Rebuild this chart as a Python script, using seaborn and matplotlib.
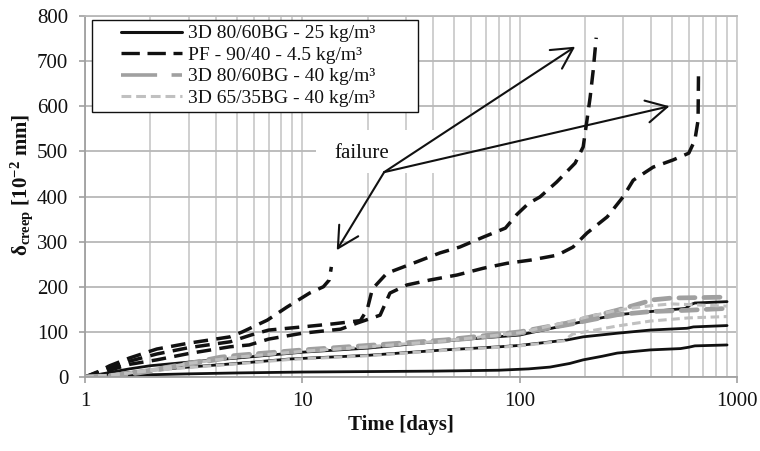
import numpy as np
import pandas as pd
import matplotlib
matplotlib.use("Agg")
import matplotlib.pyplot as plt
import seaborn as sns
from matplotlib.lines import Line2D
from matplotlib.patches import Rectangle
from matplotlib.ticker import FixedLocator, FixedFormatter, LogLocator, NullFormatter
from matplotlib.legend_handler import HandlerLine2D

# ---------------- data ----------------
series_types = ["3D 80/60BG - 25 kg/m³", "PF - 90/40 - 4.5 kg/m³",
                "3D 80/60BG - 40 kg/m³", "3D 65/35BG - 40 kg/m³"]

s1_t = [1, 1.5, 2, 3, 5, 10, 20, 40, 80, 110, 138, 170, 196, 240, 281, 398, 550, 600, 640, 900]
s1_v = [0, 3, 5, 7, 9, 11, 12, 13, 15, 18, 22, 30, 38, 46, 53, 60, 63, 66, 69, 71]
s2_t = [1, 1.3, 1.6, 2, 3, 5, 8.8, 20, 45, 81, 100, 165, 196, 281, 398, 589, 630, 900]
s2_v = [0, 5, 10, 15, 22, 30, 40, 48, 60, 67, 70, 82, 89, 97, 104, 108, 111, 114]
s3_t = [1, 1.3, 1.6, 2, 3, 5, 10, 20, 45, 100, 176, 200, 281, 400, 580, 610, 640, 900]
s3_v = [0, 10, 18, 25, 33, 42, 55, 64, 80, 93, 118, 124, 138, 145, 152, 160, 164, 167]

pf1_t = [1, 1.15, 1.3, 1.6, 2.14, 3, 4.65, 5.3, 6.9, 8.5, 10.8, 12.5, 13.3, 13.6]
pf1_v = [0, 12, 25, 42, 62, 75, 89, 100, 126, 155, 186, 200, 215, 244]
pf2_t = [1, 1.3, 1.6, 2.14, 3, 4.65, 5.8, 7, 10, 14, 18.5, 19.9, 21, 24.5, 32.3, 43, 53, 68,
         86, 97, 110, 124, 148, 180, 196, 204, 211, 218, 225]
pf2_v = [0, 20, 35, 51, 65, 78, 93, 104, 111, 118, 125, 150, 195, 230, 252, 275, 288, 310,
         330, 360, 385, 399, 432, 474, 510, 569, 620, 680, 752]
pf3_t = [1, 1.3, 1.6, 2.14, 3, 4.65, 5.7, 7, 10, 15, 18, 22.8, 25.3, 30.3, 38.7, 51.5, 68, 87.5,
         112, 149, 176, 204, 253, 299, 333, 411, 508, 600, 640, 662, 665]
pf3_v = [0, 15, 28, 38, 52, 67, 71, 84, 97, 106, 120, 137, 186, 204, 215, 226, 241, 252,
         259, 270, 288, 319, 355, 399, 436, 465, 481, 496, 525, 569, 673]

g1_t = [1, 1.3, 1.6, 2, 3, 4.2, 5, 10, 20, 45, 100, 176, 200, 281, 411, 500, 900]
g1_v = [0, 3, 8, 15, 30, 44, 48, 60, 70, 82, 100, 122, 130, 148, 171, 175, 177]
g2_t = [1, 1.3, 1.6, 2, 3, 5, 10, 20, 45, 100, 176, 200, 281, 400, 600, 900]
g2_v = [0, 2, 6, 13, 28, 46, 58, 68, 80, 97, 118, 124, 138, 145, 148, 152]

l1_t = [1, 1.3, 1.6, 2, 3, 5, 10, 20, 45, 100, 176, 200, 281, 400, 500, 900]
l1_v = [0, 4, 9, 16, 30, 44, 57, 67, 80, 98, 125, 132, 148, 158, 162, 157]
l2_t = [1, 1.3, 1.6, 2, 3, 5, 8.8, 20, 45, 81, 100, 160, 175, 200, 281, 400, 600, 900]
l2_v = [0, 4, 9, 14, 21, 29, 39, 47, 59, 66, 69, 80, 95, 100, 113, 124, 131, 134]

x_ticks = [1, 10, 100, 1000]
x_tick_labels = ["1", "10", "100", "1000"]
y_ticks = [0, 100, 200, 300, 400, 500, 600, 700, 800]

failure_label = "failure"
failure_text_pos = (18.7, 495)
arrow_origin = (23.8, 454)
arrow_tips = [(14.4, 281), (180, 732), (489, 600)]

# ---------------- build table ----------------
specimens = [
    ("S1", series_types[0], s1_t, s1_v), ("S2", series_types[0], s2_t, s2_v),
    ("S3", series_types[0], s3_t, s3_v),
    ("PF1", series_types[1], pf1_t, pf1_v), ("PF2", series_types[1], pf2_t, pf2_v),
    ("PF3", series_types[1], pf3_t, pf3_v),
    ("G1", series_types[2], g1_t, g1_v), ("G2", series_types[2], g2_t, g2_v),
    ("L1", series_types[3], l1_t, l1_v), ("L2", series_types[3], l2_t, l2_v),
]
rows = []
for name, typ, ts, vs in specimens:
    for t, v in zip(ts, vs):
        rows.append({"specimen": name, "type": typ, "t": t, "v": v})
df = pd.DataFrame(rows)

# ---------------- style ----------------
sns.set_theme(style="white")
plt.rcParams["font.family"] = ["Liberation Serif", "DejaVu Serif"]
plt.rcParams["mathtext.fontset"] = "custom"
plt.rcParams["mathtext.rm"] = "Liberation Serif"
plt.rcParams["mathtext.bf"] = "Liberation Serif:bold"
plt.rcParams["mathtext.it"] = "Liberation Serif:italic"

styles = {
    series_types[0]: dict(color="#111111", lw=2.0, ls="-", cap="butt"),
    series_types[1]: dict(color="#111111", lw=2.5, ls=(0, (4.2, 2.4)), cap="butt"),
    series_types[2]: dict(color="#a0a0a0", lw=3.4, ls=(0, (3.4, 1.9)), cap="round"),
    series_types[3]: dict(color="#c0c0c0", lw=2.2, ls=(0, (2.8, 1.5)), cap="butt"),
}
legend_styles = {
    series_types[0]: dict(color="#111111", lw=2.2, ls="-", cap="butt"),
    series_types[1]: dict(color="#111111", lw=2.4, ls=(0, (5.5, 2.3)), cap="butt"),
    series_types[2]: dict(color="#a0a0a0", lw=2.6, ls=(0, (10, 4)), cap="butt"),
    series_types[3]: dict(color="#c0c0c0", lw=2.2, ls=(0, (3.2, 1.6)), cap="butt"),
}

fig = plt.figure(figsize=(7.6, 4.51), dpi=100)
ax = fig.add_axes([85 / 760, 1 - 377 / 451, (737 - 85) / 760, (377 - 16) / 451])
ax.set_xscale("log")

for typ in series_types:
    st = styles[typ]
    sub = df[df["type"] == typ]
    sns.lineplot(data=sub, x="t", y="v", units="specimen", estimator=None, sort=False,
                 color=st["color"], linewidth=st["lw"], linestyle=st["ls"],
                 dash_capstyle=st["cap"], ax=ax, legend=False, zorder=2)

ax.set_xlim(1, 1000)
ax.set_ylim(0, 800)
ax.xaxis.set_major_locator(FixedLocator(x_ticks))
ax.xaxis.set_major_formatter(FixedFormatter(x_tick_labels))
ax.xaxis.set_minor_locator(LogLocator(base=10, subs=np.arange(2, 10)))
ax.xaxis.set_minor_formatter(NullFormatter())
ax.yaxis.set_major_locator(FixedLocator(y_ticks))

ax.set_axisbelow(True)
ax.grid(True, which="both", axis="x", color="#cccccc", lw=1.3)
ax.grid(True, which="major", axis="y", color="#b8b8b8", lw=1.3)

for side in ["left", "bottom"]:
    ax.spines[side].set_color("#a0a0a0")
    ax.spines[side].set_linewidth(1.3)
ax.spines["top"].set_color("#b8b8b8")
ax.spines["right"].set_color("#cccccc")
ax.spines["top"].set_linewidth(1.3)
ax.spines["right"].set_linewidth(1.3)

ax.tick_params(axis="both", which="major", direction="out", length=4, width=1.2,
               color="#a0a0a0", labelsize=15, labelcolor="#111111", left=True, bottom=True)
ax.tick_params(axis="y", pad=8)
ax.tick_params(axis="x", pad=7)
ax.tick_params(axis="x", which="minor", length=0)

ax.set_xlabel("Time [days]", fontsize=15, fontweight="bold", color="#111111")
ax.set_ylabel(r"δ$_{\mathbf{creep}}$ [10$^{\mathbf{-2}}$ mm]", fontsize=15,
              fontweight="bold", color="#111111")
ax.xaxis.set_label_coords(0.485, -0.104)
ax.yaxis.set_label_coords(-0.076, 0.532)

# white area behind the annotation text
ax.add_patch(Rectangle((11.6, 452), 48.9 - 11.6, 95, facecolor="white",
                       edgecolor="none", zorder=1))
ax.text(failure_text_pos[0], failure_text_pos[1], failure_label, fontsize=15,
        ha="center", va="center", color="#111111", zorder=4)
for tip in arrow_tips:
    ax.annotate("", xy=tip, xytext=arrow_origin,
                arrowprops=dict(arrowstyle="->,head_length=0.6,head_width=0.32",
                                lw=1.5, color="#111111", mutation_scale=25,
                                shrinkA=0, shrinkB=0), zorder=4)

# legend
class LeadHandler(HandlerLine2D):
    def __init__(self, lead=0.28, **kw):
        super().__init__(**kw)
        self.lead = lead

    def create_artists(self, legend, orig_handle, xdescent, ydescent, width, height,
                       fontsize, trans):
        lead = self.lead * width
        return super().create_artists(legend, orig_handle, xdescent - lead, ydescent,
                                      width - lead, height, fontsize, trans)

handles = []
for typ in series_types:
    st = legend_styles[typ]
    handles.append(Line2D([], [], color=st["color"], lw=st["lw"], linestyle=st["ls"],
                          dash_capstyle=st["cap"]))
x0 = (92 - 85) / 652
x1 = (418 - 85) / 652
y1 = (377 - 20) / 361
leg = ax.legend(handles, series_types, loc="upper left",
                bbox_to_anchor=(x0, y1 - 0.5, x1 - x0, 0.5), mode="expand",
                frameon=True, fancybox=False, framealpha=1, edgecolor="#111111",
                fontsize=14, handlelength=4.4, handletextpad=0.3, borderpad=0.25,
                labelspacing=0.2, borderaxespad=0,
                handler_map={Line2D: LeadHandler(lead=0.28)})
leg.get_frame().set_linewidth(1.0)
leg.set_zorder(5)
for txt in leg.get_texts():
    txt.set_color("#111111")

fig.savefig("out.png", dpi=100)
